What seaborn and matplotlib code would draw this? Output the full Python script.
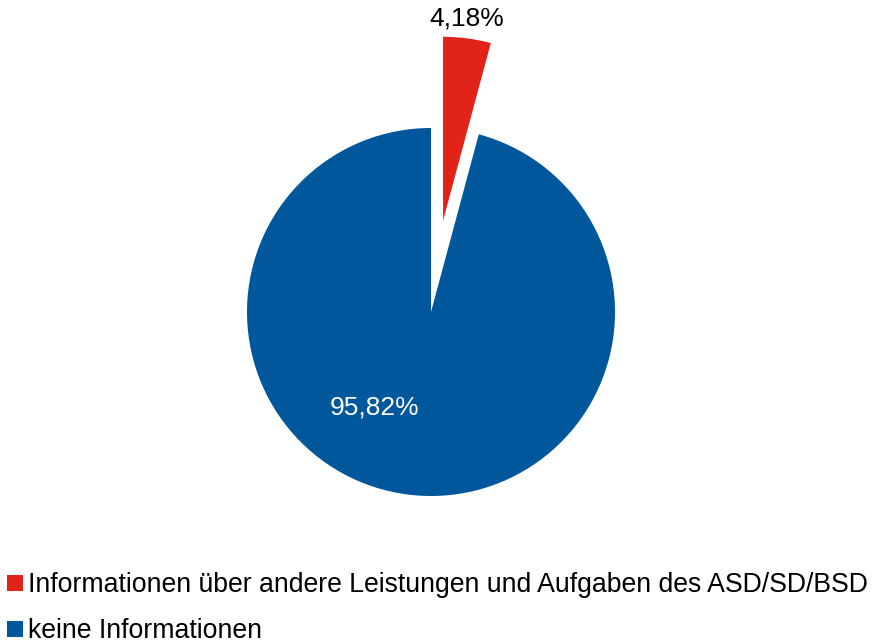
import matplotlib
matplotlib.use("Agg")
import matplotlib.pyplot as plt
from matplotlib.lines import Line2D
import seaborn as sns

# data
categories = ["Informationen über andere Leistungen und Aufgaben des ASD/SD/BSD",
              "keine Informationen"]
shares = [4.18, 95.82]
colors = ["#E2231A", "#00579C"]

sns.set_theme(style="white")
plt.rcParams["font.family"] = ["Liberation Sans", "DejaVu Sans"]
plt.rcParams["text.color"] = "black"

fig = plt.figure(figsize=(8.75, 6.43), dpi=100)
ax = fig.add_axes([247 / 875, 1 - 496 / 643, 368 / 875, 368 / 643])

wedges, _ = ax.pie(shares, colors=colors, startangle=90, counterclock=False,
                   explode=[0.50, 0], radius=1,
                   wedgeprops=dict(linewidth=0))
for w in wedges:
    w.set_clip_on(False)
ax.set_xlim(-1, 1)
ax.set_ylim(-1, 1)
ax.set_aspect("equal")
ax.axis("off")

def fmt(v):
    return f"{v:.2f}%".replace(".", ",")

ax.text(0.195, 1.595, fmt(shares[0]), ha="center", va="center", fontsize=19, color="black")
ax.text(-0.305, -0.52, fmt(shares[1]), ha="center", va="center", fontsize=19, color="white")

handles = [Line2D([], [], marker="s", linestyle="none", markersize=11,
                  markerfacecolor=c, markeredgewidth=0) for c in colors]
fig.legend(handles, categories, loc="upper left", bbox_to_anchor=(0.0, 1 - 564 / 643),
           frameon=False, fontsize=19.2, handlelength=0.5, handletextpad=0.25,
           labelspacing=0.75, borderpad=0.3, borderaxespad=0.0, labelcolor="black")

fig.savefig("out.png", dpi=100)
